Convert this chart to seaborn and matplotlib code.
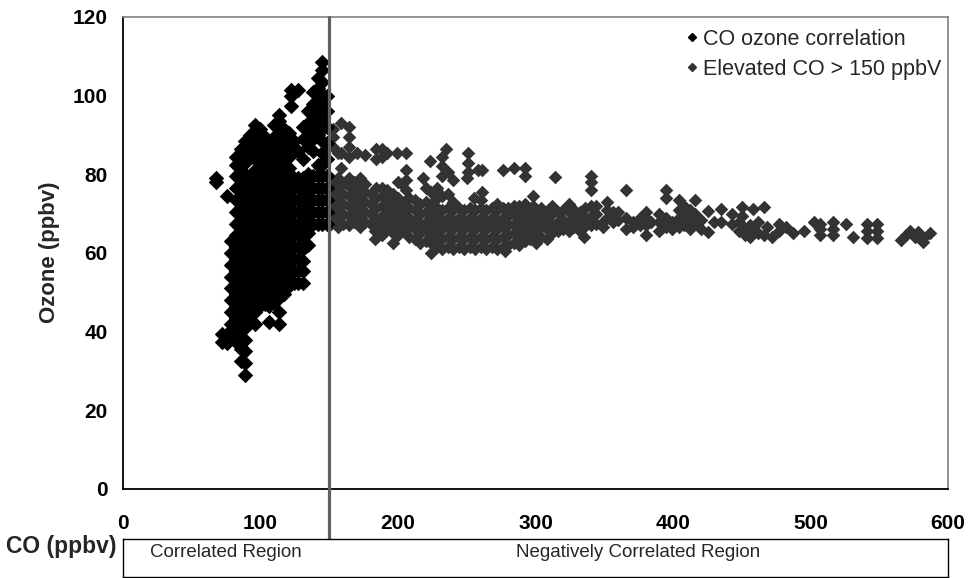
import matplotlib
matplotlib.use("Agg")
import matplotlib.pyplot as plt
from matplotlib.lines import Line2D
import seaborn as sns
import pandas as pd

# ---------------- data ----------------
# CO < 150 ppbv : column x positions and the ozone values seen in each column
black_co = [67.5, 72, 75.5, 78.5, 82, 85.5, 89, 92.5, 96, 99.5, 103, 106.5,
            110, 113.5, 117, 120.5, 122.5, 124, 127, 127.5, 131, 134.5, 138,
            141.5, 145, 148]
black_o3 = [
    [78, 79],
    [37.5, 39.5],
    [37, 39.5, 74.6],
    [39, 42, 45, 48, 51, 54, 57, 60, 63],
    [37.5, 40.5, 43.5, 46.5, 49.5, 52.5, 55.5, 58.5, 61.5, 64.5, 67.5, 70.5, 73.5, 76.5, 79.5, 82.5, 84.5],
    [32.5, 35.5, 38.5, 41.5, 44.5, 47.5, 50.5, 53.5, 56.5, 59.5, 62.5, 65.5, 68.5, 71.5, 74.5, 77.5, 80.5, 83.5, 86.5],
    [29, 32, 35, 38, 41, 44, 47, 50, 53, 56, 59, 62, 65, 68, 71, 74, 77, 80, 83, 86, 88.5],
    [42.5, 45.5, 48.5, 51.5, 54.5, 57.5, 60.5, 63.5, 66.5, 69.5, 72.5, 75.5, 78.5, 84.5, 87.5, 90],
    [42, 45, 48, 51, 54, 57, 60, 63, 66, 69, 72, 75, 78, 81, 84, 87, 90, 92.5],
    [46.5, 49.5, 52.5, 55.5, 58.5, 61.5, 64.5, 67.5, 70.5, 73.5, 76.5, 79.5, 82.5, 85.5, 88.5, 91.5],
    [47, 50, 53, 56, 59, 62, 65, 68, 71, 74, 77, 80, 83, 86, 89.5],
    [42.5, 46.5, 49.5, 52.5, 55.5, 58.5, 61.5, 64.5, 67.5, 70.5, 73.5, 76.5, 79.5, 82.5, 85.5, 88.5],
    [47.5, 50.5, 53.5, 56.5, 59.5, 62.5, 65.5, 68.5, 71.5, 74.5, 77.5, 80.5, 83.5, 86.5, 89.5, 92.5],
    [42, 45, 48.5, 51.5, 54.5, 57.5, 60.5, 63.5, 66.5, 69.5, 72.5, 75.5, 78.5, 81.5, 84.5, 87.5, 90.5, 93.5, 95],
    [49.5, 52.5, 55.5, 58.5, 61.5, 64.5, 67.5, 70.5, 73.5, 76.5, 79.5, 82.5, 85.5, 88.5, 91.5],
    [51.5, 54.5, 57.5, 60.5, 63.5, 66.5, 69.5, 72.5, 75.5, 78.5, 81.5, 84.5, 87.5, 90.5],
    [97.5, 100, 101.5],
    [52.5, 55.5, 58.5, 61.5, 64.5, 67.5, 70.5, 73.5, 76.5, 79, 88.5],
    [101.4],
    [52.5, 55.5, 58.5, 61.5, 64.5, 67.5, 70.5, 73.5, 76.5, 79, 86],
    [52.5, 55.5, 58, 61, 64, 67, 70, 73, 76, 79, 84, 89, 92],
    [62, 65, 68, 71, 74, 77, 80, 87, 90, 93, 96],
    [67.5, 70.5, 73.5, 76.5, 79.5, 86, 89, 92, 95, 98, 101],
    [67.5, 70.5, 73.5, 76.5, 79.5, 82.5, 90, 93, 96, 99, 102, 104.5],
    [67.5, 70.5, 73.5, 76.5, 79.5, 82.5, 85.5, 88.5, 91.5, 94.5, 97.5, 100.5, 103.5, 106.5, 108.5],
    [67.5, 70.5, 73.5, 76.5, 79.5, 84, 88, 92, 96, 100],
]

# CO > 150 ppbv
grey_co = [151.5, 153, 156, 158.3, 160, 164, 168, 170, 172, 176, 180, 183, 184, 188, 192,
           196, 199, 200, 203, 204, 206, 208, 212, 216, 218, 220, 223, 224, 228, 232,
           235, 236, 240, 244, 248, 250, 251, 252, 255, 256, 258, 260, 261, 264, 268,
           272, 276, 278, 280, 284, 288, 292, 296, 298, 300, 304, 308, 312, 314, 316,
           320, 324, 328, 332, 335, 336, 340, 344, 349, 352, 356, 360, 366, 371, 376,
           380, 384, 390, 395, 399, 404, 408, 412, 416, 420, 425.5, 430, 435, 443, 448,
           450, 452, 456, 458, 462, 466, 468, 472, 477, 482, 487, 495, 502.5, 507, 516,
           526, 531, 541, 548, 566, 569.5, 572, 576, 578, 582, 587]
grey_o3 = [
    [67.5, 70, 72.5, 75, 77.5, 79], [87, 89.5, 91.5], [66.5, 69, 71.5, 74, 76.5, 79, 85.5],
    [93, 81.5, 85.5], [67.5, 70, 72.5, 75, 77.5], [67, 69.5, 72, 74.5, 77, 79, 84.5, 87, 89.5, 92],
    [68, 70.5, 73, 75.5, 78], [85.5], [66.5, 69, 71.5, 74, 76.5, 79],
    [68, 70.5, 73, 75.5, 77.5, 85], [67.5, 70, 72.5, 75], [63.5, 65.5],
    [69, 71.5, 74, 76.5, 84, 86.5], [64.5, 67, 69.5, 72, 74.5, 76.5, 84.5, 86.5],
    [66.5, 69, 71.5, 74, 76, 85.5],
    [62.5, 65, 67.5, 70, 72.5, 75], [85.5], [64.5, 67, 69.5, 72, 74, 78], [77.5],
    [65.5, 68, 70.5, 73], [76, 78.5, 81, 85.5], [64, 66.5, 69, 71.5, 74],
    [63.5, 66, 68.5, 71, 73.5], [62.5, 65, 67.5, 70, 72.5], [79],
    [63, 65.5, 68, 70.5, 73, 76.5], [83.5], [60, 62.5, 65, 67.5, 70, 72.5, 75.5],
    [61.5, 64, 66.5, 69, 71.5, 74, 76.5], [61, 63.5, 66, 68.5, 71, 74.5, 79.5, 82, 84.5],
    [86.5], [61.5, 64, 66.5, 69, 71.5, 75, 80.5], [61, 63.5, 66, 68.5, 71, 73, 78.5],
    [61.5, 64, 66.5, 69, 71.5], [61, 63.5, 66, 68.5, 71], [79], [80.5, 83, 85.5],
    [61.5, 64, 66.5, 69, 71.5], [74], [61, 63.5, 66, 68.5, 71], [81],
    [61.5, 64, 66.5, 69, 71.5, 73.5], [75.5, 81], [61, 63.5, 66, 68.5, 71],
    [61.5, 64, 66.5, 69, 71.5],
    [61, 63.5, 66, 68.5, 71, 72.5], [61.5, 64, 66.5, 69, 71.5, 81], [60.5],
    [62, 64.5, 67, 69.5, 71.5], [62.5, 65, 67.5, 70, 72, 81.5], [62, 64.5, 67, 69.5, 72],
    [63, 65.5, 68, 70.5, 72.5, 79.5, 81.5], [63.5, 66, 68.5, 71], [72, 74.5],
    [62.5, 65, 67.5, 70], [64, 66.5, 69, 71.5], [63.5, 66, 68.5, 70.5], [65, 67.5, 70, 72],
    [79.3], [65.5, 68, 70.5],
    [66, 68.5, 71], [65.5, 68, 70.5, 72.5], [66.5, 69, 71], [65.5, 68, 70.5], [64, 66.5],
    [69, 71.5], [67, 69.5, 72, 76, 78, 79.7], [67.5, 70, 72], [66.5, 68], [69, 71, 73],
    [68, 70.5], [68.5, 70.5], [66.2, 68.8, 76], [66.5, 68], [67, 69],
    [64.5, 67, 69, 70.5], [68], [65.5, 68, 70], [66.5, 69, 74, 76], [66, 68],
    [66.5, 69, 71, 73.5], [67, 69.5, 72], [66, 68.5, 71], [67.5, 70, 73.4], [66, 68.5],
    [65.3, 70.8], [67.8], [68, 71.3], [67.5, 70], [65.5, 68],
    [71.6, 69.5], [66, 64.5], [64, 67], [71.3, 66.5], [65, 68], [64.5, 71.6], [66.5],
    [64], [67.5, 65.5], [66.5], [65], [65.7], [67.8], [67.5, 66, 64.5],
    [67.8, 66.2, 64.5],
    [67.5], [64], [67.5, 65.5, 63.7], [67.5, 65.5, 63.7], [63.3], [64.5], [65.7], [64],
    [65.3], [63.7, 62.8], [65],
]

series_names = ["CO ozone correlation", "Elevated CO > 150 ppbV"]
series_colors = ["#000000", "#333333"]
x_ticks = [0, 100, 200, 300, 400, 500, 600]
y_ticks = [0, 20, 40, 60, 80, 100, 120]
split_co = 150
region_labels = ["Correlated Region", "Negatively Correlated Region"]

assert len(black_co) == len(black_o3)
assert len(grey_co) == len(grey_o3)

rows = []
for name, cos, o3s in [(series_names[0], black_co, black_o3),
                       (series_names[1], grey_co, grey_o3)]:
    for x, ys in zip(cos, o3s):
        for y in ys:
            rows.append((name, x, y))
df = pd.DataFrame(rows, columns=["series", "co", "o3"])

# ---------------- figure ----------------
sns.set_style("white")
plt.rcParams["font.family"] = ["Liberation Sans", "DejaVu Sans"]

W, H = 969, 578
fig = plt.figure(figsize=(W / 100, H / 100), dpi=100)
L, R, T, B = 123, 948, 17, 489
ax = fig.add_axes([L / W, 1 - B / H, (R - L) / W, (B - T) / H])

sns.scatterplot(data=df[df.series == series_names[1]], x="co", y="o3",
                color=series_colors[1], marker="D", s=48, linewidth=0,
                legend=False, ax=ax, zorder=3)
sns.scatterplot(data=df[df.series == series_names[0]], x="co", y="o3",
                color=series_colors[0], marker="D", s=62, linewidth=0,
                legend=False, ax=ax, zorder=3)

ax.set_xlim(x_ticks[0], x_ticks[-1])
ax.set_ylim(y_ticks[0], y_ticks[-1])
ax.set_xticks(x_ticks)
ax.set_yticks(y_ticks)
ax.set_xlabel("")
ax.set_ylabel("")
ax.tick_params(axis="both", direction="out", length=5, width=1, colors="black",
               labelsize=15)
ax.tick_params(axis="x", pad=13)
ax.tick_params(axis="y", pad=6)
for lab in ax.get_xticklabels() + ax.get_yticklabels():
    lab.set_fontweight("bold")

for side in ["left", "bottom"]:
    ax.spines[side].set_color("black")
    ax.spines[side].set_linewidth(1.3)
for side in ["top", "right"]:
    ax.spines[side].set_color("#808080")
    ax.spines[side].set_linewidth(1.2)

# vertical divider at 150 ppbv, running down through the region boxes
box_bottom = 577
ax.axvline(split_co, ymin=-(box_bottom - B) / (B - T), ymax=1, color="#606060",
           lw=2.3, clip_on=False, zorder=6)

# legend
handles = [Line2D([], [], marker="D", ls="none", color=c, markersize=3.6)
           for c in series_colors]
ax.legend(handles, series_names, loc="upper left",
          bbox_to_anchor=((687 - L) / (R - L), 1 - (29 - T) / (B - T)),
          frameon=False, fontsize=15.5, handlelength=0.5, handletextpad=0.25,
          borderpad=0, borderaxespad=0, labelspacing=0.4)

fig.text(49 / W, 1 - 252 / H, "Ozone (ppbv)", rotation=90, ha="center",
         va="center", fontsize=16, fontweight="bold")
fig.text(116 / W, 1 - 546 / H, "CO (ppbv)", ha="right", va="center",
         fontsize=16.5, fontweight="bold")

# region boxes below the axis
bx = fig.add_axes([L / W, 1 - box_bottom / H, (R - L) / W, 38 / H])
bx.set_xlim(x_ticks[0], x_ticks[-1])
bx.set_ylim(0, 1)
bx.set_xticks([])
bx.set_yticks([])
for s in bx.spines.values():
    s.set_color("black")
    s.set_linewidth(1.0)
bx.text((x_ticks[0] + split_co) / 2, 0.64, region_labels[0], ha="center",
        va="center", fontsize=13.5)
bx.text((split_co + x_ticks[-1]) / 2, 0.64, region_labels[1], ha="center",
        va="center", fontsize=13.5)

fig.savefig("out.png", dpi=100)
